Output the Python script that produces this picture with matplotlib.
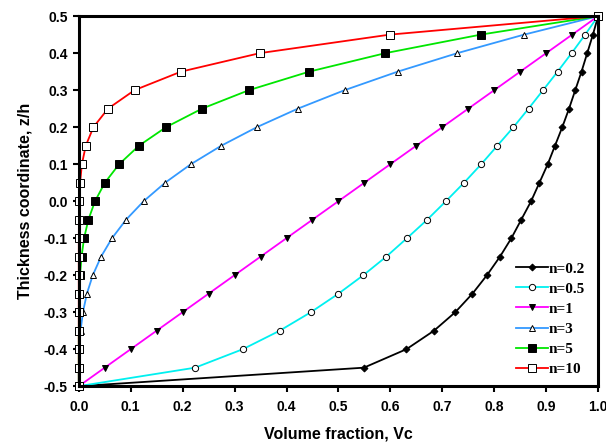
import matplotlib
matplotlib.use("Agg")
import matplotlib.pyplot as plt

# thickness coordinate z/h (shared by all series)
z = [-0.5, -0.45, -0.4, -0.35, -0.3, -0.25, -0.2, -0.15, -0.1, -0.05, 0.0,
     0.05, 0.1, 0.15, 0.2, 0.25, 0.3, 0.35, 0.4, 0.45, 0.5]

# volume fraction Vc read for each power-law index n
vc_n02 = [0.0, 0.549, 0.631, 0.684, 0.725, 0.758, 0.786, 0.811, 0.833, 0.852, 0.871,
          0.887, 0.903, 0.917, 0.931, 0.944, 0.956, 0.968, 0.979, 0.990, 1.0]
vc_n05 = [0.0, 0.224, 0.316, 0.387, 0.447, 0.5, 0.548, 0.592, 0.632, 0.671, 0.707,
          0.742, 0.775, 0.806, 0.837, 0.866, 0.894, 0.922, 0.949, 0.975, 1.0]
vc_n1 = [0.0, 0.05, 0.1, 0.15, 0.2, 0.25, 0.3, 0.35, 0.4, 0.45, 0.5,
         0.55, 0.6, 0.65, 0.7, 0.75, 0.8, 0.85, 0.9, 0.95, 1.0]
vc_n3 = [0.0, 0.0001, 0.001, 0.0034, 0.008, 0.0156, 0.027, 0.0429, 0.064, 0.0911, 0.125,
         0.1664, 0.216, 0.2746, 0.343, 0.4219, 0.512, 0.6141, 0.729, 0.8574, 1.0]
vc_n5 = [0.0, 0.0, 0.0, 0.0001, 0.0003, 0.001, 0.0024, 0.0053, 0.0102, 0.0185, 0.0313,
         0.0503, 0.0778, 0.116, 0.1681, 0.2373, 0.3277, 0.4437, 0.5905, 0.7738, 1.0]
vc_n10 = [0.0, 0.0, 0.0, 0.0, 0.0, 0.0, 0.0, 0.0, 0.0001, 0.0003, 0.001,
          0.0025, 0.006, 0.0135, 0.0282, 0.0563, 0.1074, 0.1969, 0.3487, 0.5987, 1.0]

labels = ["n=0.2", "n=0.5", "n=1", "n=3", "n=5", "n=10"]
series = [vc_n02, vc_n05, vc_n1, vc_n3, vc_n5, vc_n10]
colors = ["black", "#00f0f0", "#ff00ff", "#3399ff", "#00e600", "#ff0000"]
markers = ["D", "o", "v", "^", "s", "s"]
faces = ["black", "white", "black", "white", "black", "white"]
msizes = [3.5, 4.5, 5, 5, 5.5, 5.5]

fig = plt.figure(figsize=(6.06, 4.48), dpi=100)
ax = fig.add_axes([0.130, 0.138, 0.857, 0.826])

for vc, lab, c, m, fc, ms in zip(series, labels, colors, markers, faces, msizes):
    ax.plot(vc, z, color=c, lw=1.3, marker=m, markerfacecolor=fc,
            markeredgecolor="black", markeredgewidth=0.7, markersize=ms,
            label=lab, clip_on=False)

ax.set_xlim(0, 1)
ax.set_ylim(-0.5, 0.5)
ax.set_xticks([i / 10 for i in range(11)])
ax.set_yticks([i / 10 - 0.5 for i in range(11)])
ax.xaxis.set_major_formatter(matplotlib.ticker.FormatStrFormatter("%.1f"))
ax.yaxis.set_major_formatter(matplotlib.ticker.FormatStrFormatter("%.1f"))
ax.tick_params(direction="out", length=4, width=1.5, labelsize=10, pad=4)
ax.tick_params(axis="x", pad=6)
for lab in ax.get_xticklabels() + ax.get_yticklabels():
    lab.set_fontweight("bold")
    lab.set_family("Liberation Sans")
for sp in ax.spines.values():
    sp.set_linewidth(2.2)

ax.set_xlabel("Volume fraction, Vc", fontsize=11.5, fontweight="bold",
              family="Liberation Sans", labelpad=9)
ax.set_ylabel("Thickness coordinate, z/h", fontsize=11.5, fontweight="bold",
              family="Liberation Sans", labelpad=8)

ax.legend(loc="lower right", bbox_to_anchor=(1.0, -0.01), frameon=False,
          prop={"family": "Liberation Serif", "weight": "bold", "size": 11},
          handlelength=2.1, handletextpad=0.0, labelspacing=0.42)

fig.savefig("out.png", dpi=100)
